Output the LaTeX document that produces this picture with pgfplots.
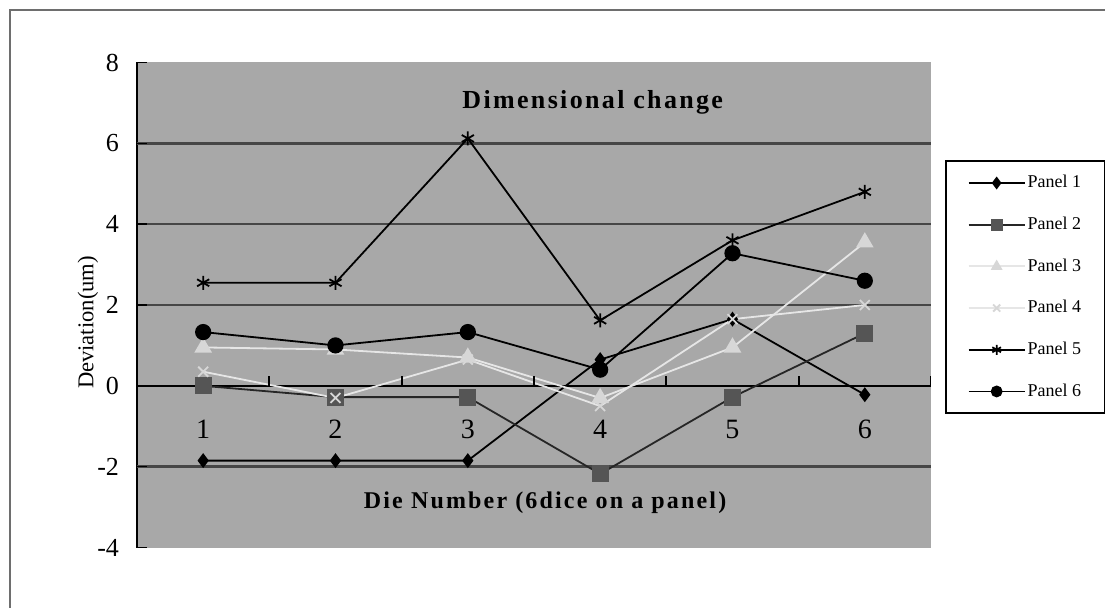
\documentclass[border=0pt]{standalone}
\usepackage{fontspec}
\setmainfont{Liberation Serif}
\usepackage{pgfplots}
\pgfplotsset{compat=1.18}
\definecolor{plotbg}{RGB}{168,168,168}
\definecolor{gridc}{RGB}{70,70,70}
\definecolor{ptwo}{RGB}{85,85,85}
\definecolor{lightl}{RGB}{230,230,230}
\definecolor{lightm}{RGB}{215,215,215}
\definecolor{framec}{RGB}{110,110,110}
\begin{document}
\begin{tikzpicture}
\useasboundingbox (0,0) rectangle (552.5pt,303.5pt);
\fill[white] (0,0) rectangle (552.5pt,303.5pt);
\draw[framec, line width=1pt] (5pt,-2pt) -- (5pt,298.5pt) -- (555pt,298.5pt);
\begin{axis}[
  at={(68.5pt,29.75pt)}, anchor=south west,
  scale only axis, width=397pt, height=242.5pt,
  xmin=0.5, xmax=6.5, ymin=-4, ymax=8,
  axis background/.style={fill=plotbg},
  axis x line*=middle, axis y line*=left,
  x axis line style={-, black, line width=1.2pt},
  y axis line style={-, black, line width=0.8pt},
  xtick={1,...,6}, xtick style={draw=none},
  xticklabel style={font=\fontsize{14}{16}\selectfont, yshift=-13.5pt},
  ytick={-4,-2,...,8},
  ytick style={black, line width=0.8pt}, tick align=inside, major tick length=5pt,
  yticklabel style={font=\fontsize{13}{15}\selectfont, xshift=-5.5pt},
  extra y ticks={-2,2,4,6}, extra y tick labels={},
  extra y tick style={ymajorgrids=true, major grid style={gridc, line width=1.3pt}},
  /pgf/number format/assume math mode=true,
  ylabel={Deviation(um)},
  ylabel style={at={(axis description cs:-0.0617,0.464)}, anchor=center, font=\fontsize{11.3}{13}\selectfont},
  every axis title shift=0pt,
  title={\addfontfeature{LetterSpace=9}Dimensional change},
  title style={at={(axis description cs:0.574,0.9175)}, anchor=center, font=\fontsize{13}{15}\selectfont\bfseries},
  xlabel={\addfontfeature{LetterSpace=9}Die Number (6dice on a panel)},
  xlabel style={at={(axis description cs:0.514,0.0928)}, anchor=center, font=\fontsize{12}{14}\selectfont\bfseries},
  legend style={at={(axis description cs:1.0176,0.798)}, anchor=north west, draw=black, line width=0.8pt, fill=white,
    font=\fontsize{9}{10}\selectfont, inner xsep=11pt, inner ysep=5pt, row sep=9.1pt, cells={anchor=west},
    nodes={inner xsep=1pt}},
  legend image code/.code={\draw[mark repeat=2, mark phase=2, mark size=2.5pt] plot coordinates {(0pt,0pt) (14pt,0pt) (28pt,0pt)};},
]
\addplot[black, line width=0.9pt, mark=diamond*, mark size=3pt, mark options={fill=black}]
  coordinates {(1,-1.85) (2,-1.85) (3,-1.85) (4,0.65) (5,1.65) (6,-0.22)};
\addlegendentry{Panel 1}
\addplot[black!85, line width=0.9pt, mark=square*, mark size=3.8pt, mark options={draw=ptwo, fill=ptwo}]
  coordinates {(1,0) (2,-0.28) (3,-0.28) (4,-2.18) (5,-0.28) (6,1.3)};
\addlegendentry{Panel 2}
\addplot[lightl, line width=0.9pt, mark=triangle*, mark size=4.2pt, mark options={draw=lightm, fill=lightm}]
  coordinates {(1,0.95) (2,0.9) (3,0.7) (4,-0.3) (5,0.95) (6,3.55)};
\addlegendentry{Panel 3}
\addplot[lightl, line width=0.9pt, mark=x, mark size=3.5pt, mark options={draw=lightm}]
  coordinates {(1,0.35) (2,-0.3) (3,0.65) (4,-0.5) (5,1.65) (6,2.0)};
\addlegendentry{Panel 4}
\addplot[black, line width=0.9pt, mark=asterisk, mark size=3.5pt]
  coordinates {(1,2.55) (2,2.55) (3,6.12) (4,1.62) (5,3.6) (6,4.8)};
\addlegendentry{Panel 5}
\addplot[black, line width=0.9pt, mark=*, mark size=3.6pt, mark options={fill=black}]
  coordinates {(1,1.33) (2,1.0) (3,1.33) (4,0.4) (5,3.28) (6,2.6)};
\addlegendentry{Panel 6}
\pgfplotsinvokeforeach{1.5,2.5,3.5,4.5,5.5,6.5}{
  \draw[black, line width=1pt] (axis cs:#1,0) -- ([yshift=5pt]axis cs:#1,0);
}
\end{axis}
\end{tikzpicture}
\end{document}
